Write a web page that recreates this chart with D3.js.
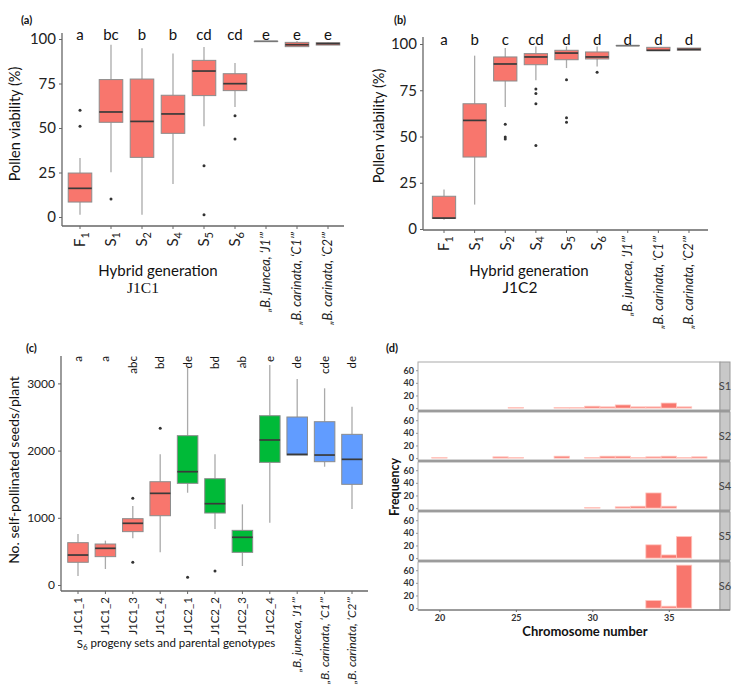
<!DOCTYPE html>
<html><head><meta charset="utf-8">
<script src="https://cdn.jsdelivr.net/npm/d3@7"></script>
<style>body{margin:0;background:#fff}svg{display:block}</style>
</head><body>
<svg id="fig" width="738" height="690"></svg>
<script>
// ---------- DATA ----------
// Panels (a) and (b): pollen viability (%)
const genBase = ["F","S","S","S","S","S"];
const genSub  = ["1","1","2","4","5","6"];
const parentLabels = ["\u201EB. juncea, \u2018J1\u2019\u201D","\u201EB. carinata, \u2018C1\u2019\u201D","\u201EB. carinata, \u2018C2\u2019\u201D"];
const genCats = ["F1","S1","S2","S4","S5","S6","J1","C1","C2"];

const aLetters = ["a","bc","b","b","cd","cd","e","e","e"];
const aQ1  = [8.4, 53.2, 33.5, 47.0, 68.2, 71.0, 98.7, 95.7, 96.6];
const aMed = [16.1, 59.0, 53.7, 57.9, 82.0, 74.9, 98.7, 96.8, 97.4];
const aQ3  = [24.7, 77.2, 77.5, 68.4, 88.0, 80.5, 98.7, 98.1, 97.9];
const aLo  = [1.3, 25.1, 1.3, 18.5, 51.0, 61.8, 98.7, 95.7, 96.6];
const aHi  = [33.1, 96.8, 94.8, 91.8, 95.5, 86.5, 98.7, 98.9, 98.2];
const aOut = [[60, 51], [10.1], [], [], [28.8, 1.3], [56.9, 43.8], [], [], []];

const bLetters = ["a","b","c","cd","d","d","d","d","d"];
const bQ1  = [5.8, 38.9, 80.0, 88.8, 91.5, 91.9, 99.1, 96.4, 96.6];
const bMed = [5.9, 58.7, 89.2, 93.0, 95.1, 93.0, 99.1, 96.6, 97.1];
const bQ3  = [17.7, 67.7, 93.0, 94.8, 96.6, 95.7, 99.1, 98.2, 97.8];
const bLo  = [5.0, 13.2, 65.9, 80.4, 87.0, 87.9, 99.1, 96.4, 96.6];
const bHi  = [21.3, 93.7, 97.8, 98.7, 98.7, 98.7, 99.1, 98.2, 97.8];
const bOut = [[], [], [56.6, 49.7, 48.6], [75.7, 73.2, 67.7, 45.2], [80.7, 60.2, 57.7], [84.7], [], [], []];
const pctTicks = [0, 25, 50, 75, 100];

// Panel (c): self-pollinated seeds per plant
const cCats = ["J1C1_1","J1C1_2","J1C1_3","J1C1_4","J1C2_1","J1C2_2","J1C2_3","J1C2_4","J1","C1","C2"];
const cGroup = ["J1C1","J1C1","J1C1","J1C1","J1C2","J1C2","J1C2","J1C2","P","P","P"];
const cLetters = ["a","a","abc","bd","de","bd","ab","e","de","cde","de"];
const cQ1  = [338, 422, 794, 1031, 1513, 1071, 486, 1825, 1934, 1835, 1498];
const cMed = [446, 546, 918, 1364, 1686, 1210, 710, 2158, 1944, 1934, 1870];
const cQ3  = [630, 610, 987, 1537, 2222, 1582, 813, 2519, 2500, 2430, 2242];
const cLo  = [134, 238, 694, 486, 1373, 833, 283, 927, 1934, 1760, 1131];
const cHi  = [759, 660, 1175, 1944, 3230, 1944, 1200, 3274, 3065, 2927, 2653];
const cOut = [[], [], [1290, 338], [2331], [114], [208], [], [], [], [], []];
const seedTicks = [0, 1000, 2000, 3000];

// Panel (d): chromosome number histograms
const chromNums = [20, 24, 25, 28, 29, 30, 31, 32, 33, 34, 35, 36, 37];
const facetNames = ["S1","S2","S4","S5","S6"];
const freqS1 = [0, 0, 1, 1, 1, 3, 2, 5, 2, 2, 8, 2, 0];
const freqS2 = [1, 2, 1, 3, 0, 1, 3, 3, 1, 2, 3, 1, 2];
const freqS4 = [0, 0, 0, 0, 0, 1, 0, 2, 3, 24, 3, 0, 0];
const freqS5 = [0, 0, 0, 0, 0, 0, 0, 0, 0, 21, 5, 34, 0];
const freqS6 = [0, 0, 0, 0, 0, 0, 0, 0, 0, 12, 3, 68, 0];
const freqTicks = [0, 20, 40, 60];
const chromTicks = [20, 25, 30, 35];

// ---------- DRAWING ----------
const FONT = "Lato, 'Open Sans', sans-serif";
const RED = "#F8766D", GREEN = "#00BA38", BLUE = "#619CFF";
const svg = d3.select("#fig");

function styleAxis(g, fs) {
  g.attr("font-family", FONT).attr("font-size", fs);
  g.select(".domain").attr("stroke", "#666").attr("stroke-width", 1.3);
  g.selectAll(".tick line").attr("stroke", "#666");
  g.selectAll(".tick text").attr("fill", "#222");
}

function drawBoxes(g, x, y, cats, q1, med, q3, lo, hi, outs, colorFn, bwFrac) {
  const bw = x.bandwidth() * bwFrac;
  cats.forEach((c, i) => {
    const cx = x(c) + x.bandwidth() / 2;
    const gg = g.append("g");
    gg.append("line").attr("x1", cx).attr("x2", cx).attr("y1", y(lo[i])).attr("y2", y(q1[i]))
      .attr("stroke", "#aaa").attr("stroke-width", 1.3);
    gg.append("line").attr("x1", cx).attr("x2", cx).attr("y1", y(q3[i])).attr("y2", y(hi[i]))
      .attr("stroke", "#aaa").attr("stroke-width", 1.3);
    gg.append("rect").attr("x", cx - bw / 2).attr("width", bw)
      .attr("y", y(q3[i])).attr("height", Math.max(0.01, y(q1[i]) - y(q3[i])))
      .attr("fill", colorFn(i)).attr("stroke", "#8c8c8c").attr("stroke-width", 1);
    gg.append("line").attr("x1", cx - bw / 2).attr("x2", cx + bw / 2)
      .attr("y1", y(med[i])).attr("y2", y(med[i]))
      .attr("stroke", q1[i] === q3[i] ? "#777" : "#3a3a3a").attr("stroke-width", 1.7);
    outs[i].forEach(v => gg.append("circle").attr("cx", cx).attr("cy", y(v)).attr("r", 1.5).attr("fill", "#333"));
  });
}

function genTickText(axisG, fsMain, fsSub, fsPar) {
  axisG.selectAll(".tick text").each(function(d, i) {
    const t = d3.select(this);
    t.text(null).attr("transform", "rotate(-90)").attr("text-anchor", "end")
      .attr("x", -6).attr("y", 0).attr("dy", "0.35em");
    if (i < genBase.length) {
      t.attr("font-size", fsMain);
      t.append("tspan").text(genBase[i]);
      t.append("tspan").attr("font-size", fsSub).attr("dy", "0.3em").text(genSub[i]);
    } else {
      t.attr("font-size", fsPar).attr("font-style", "italic").text(parentLabels[i - genBase.length]);
    }
  });
}

function viabilityPanel(opt) {
  const x = d3.scaleBand().domain(genCats).range(opt.xr).padding(0);
  const y = d3.scaleLinear().domain([0, 100]).range(opt.yr);
  const g = svg.append("g");
  drawBoxes(g, x, y, genCats, opt.q1, opt.med, opt.q3, opt.lo, opt.hi, opt.out, () => RED, 0.76);
  const xa = g.append("g").attr("transform", `translate(0,${opt.axisY})`)
    .call(d3.axisBottom(x).tickSize(3).tickSizeOuter(0));
  styleAxis(xa, 15);
  xa.select(".domain").attr("d", `M${opt.axisX},0H${opt.xEnd}`);
  genTickText(xa, 15, 11, 12.8);
  const ya = g.append("g").attr("transform", `translate(${opt.axisX},0)`)
    .call(d3.axisLeft(y).tickValues(pctTicks).tickSize(3).tickPadding(3).tickSizeOuter(0));
  styleAxis(ya, 15);
  ya.select(".domain").attr("d", `M0,${opt.yTop}V${opt.axisY}`);
  g.selectAll(null).data(opt.letters).join("text")
    .attr("x", (d, i) => x(genCats[i]) + x.bandwidth() / 2).attr("y", opt.letterY)
    .attr("text-anchor", "middle").attr("font-family", FONT).attr("font-size", 15).attr("fill", "#111")
    .text(d => d);
  g.append("text").attr("transform", `translate(${opt.ylabX},${opt.ylabY}) rotate(-90)`)
    .attr("text-anchor", "middle").attr("font-family", FONT).attr("font-size", 14.5).attr("fill", "#111")
    .text("Pollen viability (%)");
  g.append("text").attr("x", opt.hgX).attr("y", 276).attr("text-anchor", "middle")
    .attr("font-family", FONT).attr("font-size", 15).attr("fill", "#111").text("Hybrid generation");
  g.append("text").attr("x", opt.subX).attr("y", 293).attr("text-anchor", "middle")
    .attr("font-family", opt.subFont).attr("font-size", 15.5).attr("fill", "#111").text(opt.sub);
  g.append("text").attr("x", opt.tagX).attr("y", 24).attr("font-family", FONT).attr("font-weight", "bold")
    .attr("font-size", 11).attr("fill", "#111").text(opt.tag);
}

viabilityPanel({xr: [64.5, 343.5], yr: [217, 39], axisY: 226, axisX: 62, xEnd: 344, yTop: 33,
  q1: aQ1, med: aMed, q3: aQ3, lo: aLo, hi: aHi, out: aOut, letters: aLetters, letterY: 40,
  ylabX: 20, ylabY: 124, hgX: 158, subX: 143, sub: "J1C1", subFont: "'Liberation Serif', 'Times New Roman', serif",
  tagX: 21, tag: "(a)"});
viabilityPanel({xr: [428.7, 704.3], yr: [229, 44], axisY: 230, axisX: 423, xEnd: 708, yTop: 37,
  q1: bQ1, med: bMed, q3: bQ3, lo: bLo, hi: bHi, out: bOut, letters: bLetters, letterY: 45,
  ylabX: 384, ylabY: 126, hgX: 529, subX: 520, sub: "J1C2", subFont: FONT,
  tagX: 394, tag: "(b)"});

// ---- Panel (c)
(function() {
  const x = d3.scaleBand().domain(cCats).range([64.3, 365.7]).padding(0);
  const y = d3.scaleLinear().domain([0, 3000]).range([585, 383.4]);
  const col = {J1C1: RED, J1C2: GREEN, P: BLUE};
  const g = svg.append("g");
  drawBoxes(g, x, y, cCats, cQ1, cMed, cQ3, cLo, cHi, cOut, i => col[cGroup[i]], 0.75);
  g.selectAll(null).data(cLetters).join("text")
    .attr("transform", (d, i) => `translate(${x(cCats[i]) + x.bandwidth() / 2},356) rotate(-90)`)
    .attr("text-anchor", "end").attr("dy", "0.35em")
    .attr("font-family", FONT).attr("font-size", 11.5).attr("fill", "#111").text(d => d);
  const xa = g.append("g").attr("transform", "translate(0,591)")
    .call(d3.axisBottom(x).tickSize(3).tickSizeOuter(0));
  styleAxis(xa, 11.5);
  xa.select(".domain").attr("d", "M61,0H368");
  xa.selectAll(".tick text").each(function(d, i) {
    const t = d3.select(this);
    t.attr("transform", "rotate(-90)").attr("text-anchor", "end").attr("x", -6).attr("y", 0).attr("dy", "0.35em");
    if (i >= 8) t.attr("font-style", "italic").attr("font-size", 12).text(parentLabels[i - 8]);
  });
  const ya = g.append("g").attr("transform", "translate(61,0)")
    .call(d3.axisLeft(y).tickValues(seedTicks).tickFormat(d3.format("d")).tickSize(3).tickPadding(3).tickSizeOuter(0));
  styleAxis(ya, 12);
  ya.select(".domain").attr("d", "M0,356V591");
  g.append("text").attr("transform", "translate(19,470) rotate(-90)").attr("text-anchor", "middle")
    .attr("font-family", FONT).attr("font-size", 14).attr("fill", "#111").text("No. self-pollinated seeds/plant");
  const xl = g.append("text").attr("x", 176).attr("y", 648).attr("text-anchor", "middle")
    .attr("font-family", FONT).attr("font-size", 11.5).attr("fill", "#111");
  xl.append("tspan").text("S");
  xl.append("tspan").attr("font-size", 8).attr("dy", "0.3em").text("6");
  xl.append("tspan").attr("dy", "-0.3em").text(" progeny sets and parental genotypes");
  g.append("text").attr("x", 26).attr("y", 352).attr("font-family", FONT).attr("font-weight", "bold")
    .attr("font-size", 11).attr("fill", "#111").text("(c)");
})();

// ---- Panel (d)
(function() {
  const facets = [freqS1, freqS2, freqS4, freqS5, freqS6];
  const left = 418, stripL = 720, right = 730;
  const x = d3.scaleLinear().domain([18.6, 38.35]).range([left, stripL]);
  const g = svg.append("g");
  const top0 = 362, step = 50, h = 48;
  facets.forEach((f, k) => {
    const top = top0 + k * step, bot = top + h;
    const y = d3.scaleLinear().domain([-3, 73]).range([bot, top]);
    g.append("rect").attr("x", left).attr("y", top).attr("width", stripL - left).attr("height", h)
      .attr("fill", "#fff").attr("stroke", "#aaa").attr("stroke-width", 1);
    g.selectAll(null).data(chromNums.map((c, i) => ({c, v: f[i]})).filter(d => d.v > 0)).join("rect")
      .attr("x", d => x(d.c - 0.5)).attr("width", d => x(d.c + 0.5) - x(d.c - 0.5))
      .attr("y", d => y(d.v)).attr("height", d => y(0) - y(d.v))
      .attr("fill", RED).attr("stroke", "#ffc4bd").attr("stroke-width", 0.8);
    g.append("rect").attr("x", stripL).attr("y", top).attr("width", right - stripL).attr("height", h)
      .attr("fill", "#c8c8c8").attr("stroke", "#9a9a9a").attr("stroke-width", 1);
    g.append("text").attr("x", 725).attr("y", top + h / 2 + 4).attr("text-anchor", "middle")
      .attr("font-family", FONT).attr("font-size", 11).attr("fill", "#444").text(facetNames[k]);
    const ya = g.append("g").attr("transform", `translate(${left},0)`)
      .call(d3.axisLeft(y).tickValues(freqTicks).tickSize(2).tickPadding(2).tickSizeOuter(0));
    styleAxis(ya, 9);
    ya.select(".domain").remove();
    ya.selectAll(".tick text").attr("font-weight", "bold").attr("fill", "#333");
    ya.selectAll(".tick line").attr("stroke", "#999");
    if (k > 0) g.append("line").attr("x1", left).attr("x2", right).attr("y1", top - 1).attr("y2", top - 1)
      .attr("stroke", "#8a8a8a").attr("stroke-width", 1.6);
  });
  const bottom = top0 + 4 * step + h;
  const xa = g.append("g").attr("transform", `translate(0,${bottom})`)
    .call(d3.axisBottom(x).tickValues(chromTicks).tickSize(2).tickPadding(3).tickSizeOuter(0));
  styleAxis(xa, 9);
  xa.select(".domain").attr("d", `M${left},0H${right}`).attr("stroke", "#888").attr("stroke-width", 1.5);
  xa.selectAll(".tick text").attr("font-weight", "bold").attr("fill", "#333");
  g.append("text").attr("x", 585).attr("y", 636).attr("text-anchor", "middle").attr("font-family", FONT)
    .attr("font-weight", "bold").attr("font-size", 13).attr("fill", "#111").text("Chromosome number");
  g.append("text").attr("transform", "translate(399,487) rotate(-90)").attr("text-anchor", "middle")
    .attr("font-family", FONT).attr("font-weight", "bold").attr("font-size", 12.5).attr("fill", "#111").text("Frequency");
  g.append("text").attr("x", 386).attr("y", 352).attr("font-family", FONT).attr("font-weight", "bold")
    .attr("font-size", 11).attr("fill", "#111").text("(d)");
})();
</script>
</body></html>
